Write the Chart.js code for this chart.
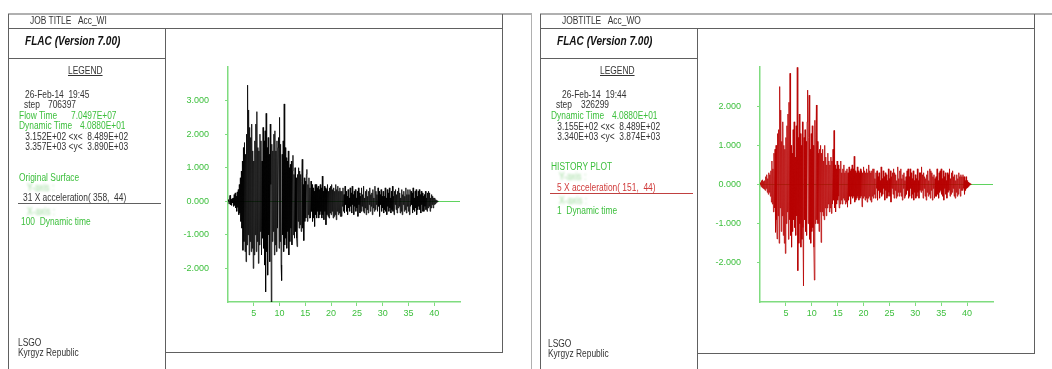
<!DOCTYPE html>
<html>
<head>
<meta charset="utf-8">
<script src="https://cdn.jsdelivr.net/npm/chart.js@4.4.1/dist/chart.umd.min.js"></script>
<style>
body{margin:0;width:1052px;height:369px;position:relative;background:#fff;overflow:hidden;font-family:"Liberation Sans",Arial,sans-serif;}
.ln{position:absolute;background:#606060;}
.lg{position:absolute;background:#b0b0b0;}
.t{position:absolute;font-size:10px;line-height:12px;color:#333;white-space:pre;transform:scaleX(0.84);transform-origin:0 0;}
.g{color:#3cbf3c;}
.r{color:#d03a3a;}
.blur{color:#9fdc9f;filter:blur(1.2px);}
.flac{font-weight:bold;font-style:italic;font-size:12px;color:#111;}
.leg{text-decoration:underline;}
.box{position:absolute;}
</style>
</head>
<body>

<!-- left page -->
<div class="lg" style="left:8px;top:13px;width:524px;height:2px"></div>
<div class="ln" style="left:8px;top:14px;width:1px;height:355px"></div>
<div class="lg" style="left:531px;top:14px;width:1px;height:355px"></div>
<div class="ln" style="left:8px;top:28px;width:494px;height:1px"></div>
<div class="ln" style="left:165px;top:28px;width:1px;height:341px"></div>
<div class="ln" style="left:8px;top:58px;width:157px;height:1px"></div>
<div class="ln" style="left:502px;top:14px;width:1px;height:339px"></div>
<div class="ln" style="left:165px;top:352px;width:338px;height:1px"></div>

<div class="t" style="left:30px;top:15px">JOB TITLE   Acc_WI</div>
<div class="t flac" style="left:25px;top:35px">FLAC (Version 7.00)</div>
<div class="t leg" style="left:68px;top:65px">LEGEND</div>
<div class="t" style="left:25px;top:89px">26-Feb-14  19:45</div>
<div class="t" style="left:24px;top:99px">step</div>
<div class="t" style="left:48px;top:99px">706397</div>
<div class="t g" style="left:19px;top:110px">Flow Time</div>
<div class="t g" style="left:71px;top:110px">7.0497E+07</div>
<div class="t g" style="left:19px;top:120px">Dynamic Time</div>
<div class="t g" style="left:80px;top:120px">4.0880E+01</div>
<div class="t" style="left:23px;top:131px"> 3.152E+02 &lt;x&lt;  8.489E+02</div>
<div class="t" style="left:23px;top:141px"> 3.357E+03 &lt;y&lt;  3.890E+03</div>
<div class="t g" style="left:19px;top:172px">Original Surface</div>
<div class="t blur" style="left:27px;top:182px">Y-axis :</div>
<div class="t" style="left:23px;top:192px">31 X acceleration( 358,  44)</div>
<div class="ln" style="left:18px;top:203px;width:143px;height:1px"></div>
<div class="t blur" style="left:27px;top:206px">X-axis :</div>
<div class="t g" style="left:21px;top:216px">100  Dynamic time</div>
<div class="t" style="left:18px;top:337px">LSGO</div>
<div class="t" style="left:18px;top:347px">Kyrgyz Republic</div>

<!-- right page -->
<div class="lg" style="left:540px;top:13px;width:512px;height:2px"></div>
<div class="ln" style="left:540px;top:14px;width:1px;height:355px"></div>
<div class="ln" style="left:540px;top:28px;width:494px;height:1px"></div>
<div class="ln" style="left:697px;top:28px;width:1px;height:341px"></div>
<div class="ln" style="left:540px;top:58px;width:157px;height:1px"></div>
<div class="ln" style="left:1034px;top:14px;width:1px;height:340px"></div>
<div class="ln" style="left:697px;top:353px;width:338px;height:1px"></div>

<div class="t" style="left:562px;top:15px">JOBTITLE   Acc_WO</div>
<div class="t flac" style="left:557px;top:35px">FLAC (Version 7.00)</div>
<div class="t leg" style="left:600px;top:65px">LEGEND</div>
<div class="t" style="left:562px;top:89px">26-Feb-14  19:44</div>
<div class="t" style="left:556px;top:99px">step</div>
<div class="t" style="left:581px;top:99px">326299</div>
<div class="t g" style="left:551px;top:110px">Dynamic Time</div>
<div class="t g" style="left:612px;top:110px">4.0880E+01</div>
<div class="t" style="left:555px;top:121px"> 3.155E+02 &lt;x&lt;  8.489E+02</div>
<div class="t" style="left:555px;top:131px"> 3.340E+03 &lt;y&lt;  3.874E+03</div>
<div class="t g" style="left:551px;top:161px">HISTORY PLOT</div>
<div class="t blur" style="left:559px;top:171px">Y-axis :</div>
<div class="t r" style="left:557px;top:182px">5 X acceleration( 151,  44)</div>
<div class="ln" style="left:550px;top:193px;width:143px;height:1px;background:#c04040"></div>
<div class="t blur" style="left:559px;top:195px">X-axis :</div>
<div class="t g" style="left:557px;top:205px">1  Dynamic time</div>
<div class="t" style="left:548px;top:338px">LSGO</div>
<div class="t" style="left:548px;top:348px">Kyrgyz Republic</div>

<div class="box" style="left:170px;top:40px;width:300px;height:290px"><canvas id="accWI"></canvas></div>
<div class="box" style="left:702px;top:40px;width:300px;height:290px"><canvas id="accWO"></canvas></div>

<script>
// history sampling step (s)
const dt = 0.1;

// x-acceleration history, grid point (358,44), Acc_WI
const accWI = [
  0, 0.05, -0.08, 0.12, 0.18, -0.1, 0.06, -0.12, 0.08, -0.05,
  0.1, -0.15, 0.2, -0.12, 0.25, -0.2, 0.15, -0.3, 0.28, -0.18,
  0.35, -0.4, 0.5, -0.35, 0.7, -0.6, 0.9, -0.8, 1.2, -1.46,
  1.6, -1.2, 1.75, -1.5, 1.4, -1.8, 2.0, -1.3, 3.46, -1.0,
  2.72, -1.6, 2.2, -1.2, 1.9, -1.5, 2.3, -1.4, 1.5, -2.0,
  1.2, -1.6, 1.8, -1.0, 2.3, -1.5, 2.67, -1.2, 1.6, -1.85,
  1.5, -1.3, 2.0, -0.9, 1.8, -1.6, 1.2, -1.1, 2.2, -1.4,
  1.8, -1.9, 2.1, -2.7, 2.62, -1.5, 1.6, -2.2, 1.9, -1.0,
  1.4, -1.8, 2.3, 0.5, -3.0, 1.7, -1.2, 1.5, -0.9, 2.0,
  -1.6, 2.1, -1.3, 1.5, -1.5, 1.8, -0.8, 1.6, 1.9, -1.4,
  2.5, -1.2, 1.7, -1.9, -2.36, 1.4, -1.0, 1.8, -1.5, 2.9,
  -1.3, 1.6, -1.1, 1.3, -1.4, 1.2, -0.9, 1.5, -1.6, 1.0,
  -1.2, 1.1, -0.8, 1.2, -1.3, 0.9, 1.37, -1.0, 0.8, -1.1,
  1.0, -0.9, 0.7, -1.1, -1.35, 0.8, -0.6, 1.0, -0.8, 0.9,
  -0.7, 0.8, -0.9, 0.6, 1.25, -0.8, 0.5, -1.17, 0.7, -0.6,
  0.6, -0.5, 0.8, 0.95, -0.6, 0.5, -0.4, 0.7, -0.5, 0.4,
  -0.5, 0.6, -0.3, 0.5, -0.6, 0.4, -0.5, 0.3, -0.75, 0.5,
  -0.4, 0.5, -0.5, 0.4, -0.3, 0.45, -0.5, 0.35, -0.4, 0.5,
  -0.3, 0.4, -0.5, 0.75, -0.4, 0.3, -0.55, 0.45, -0.3, 0.4,
  -0.7, 0.35, -0.4, 0.5, -0.45, 0.3, -0.5, 0.4, -0.35, 0.45,
  -0.4, 0.5, -0.3, 0.35, -0.5, 0.4, -0.45, 0.3, -0.4, 0.5,
  -0.55, 0.35, -0.3, 0.45, -0.4, 0.3, -0.35, 0.4, -0.45, 0.3,
  -0.45, 0.3, -0.15, 0.4, -0.3, 0.2, -0.35, 0.45, -0.1, 0.3,
  -0.3, 0.15, -0.4, 0.35, -0.2, 0.1, -0.3, 0.4, -0.15, 0.25,
  -0.35, 0.45, -0.1, 0.2, -0.4, 0.3, -0.15, 0.35, -0.3, 0.1,
  -0.2, 0.3, -0.45, 0.4, -0.1, 0.25, -0.35, 0.15, -0.3, 0.4,
  -0.15, 0.2, -0.3, 0.45, -0.35, 0.1, -0.2, 0.3, -0.4, 0.35,
  -0.25, 0.15, -0.35, 0.3, -0.1, 0.4, -0.3, 0.2, -0.15, 0.25,
  -0.4, 0.35, -0.2, 0.1, -0.3, 0.45, -0.25, 0.3, -0.1, 0.2,
  -0.3, 0.4, -0.15, 0.3, -0.45, 0.2, -0.1, 0.35, -0.3, 0.15,
  -0.2, 0.3, -0.35, 0.15, -0.25, 0.4, -0.3, 0.1, -0.4, 0.35,
  -0.15, 0.25, -0.3, 0.4, -0.2, 0.1, -0.35, 0.3, -0.25, 0.45,
  -0.3, 0.15, -0.4, 0.3, -0.1, 0.35, -0.25, 0.2, -0.35, 0.3,
  -0.2, 0.4, -0.15, 0.25, -0.35, 0.1, -0.3, 0.35, -0.4, 0.2,
  -0.1, 0.3, -0.3, 0.15, -0.25, 0.4, -0.35, 0.2, -0.15, 0.35,
  -0.3, 0.2, -0.4, 0.35, -0.15, 0.3, -0.1, 0.25, -0.35, 0.4,
  -0.25, 0.1, -0.3, 0.3, -0.2, 0.35, -0.4, 0.15, -0.25, 0.3,
  -0.15, 0.35, -0.25, 0.2, -0.35, 0.3, -0.1, 0.25, -0.3, 0.15,
  -0.3, 0.2, -0.15, 0.3, -0.25, 0.1, -0.3, 0.25, -0.2, 0.3,
  -0.15, 0.25, -0.3, 0.1, -0.2, 0.2, -0.1, 0.15, -0.2, 0.1,
  -0.1, 0.1, -0.08, 0.05, -0.04, 0.03, -0.02, 0.01, 0, 0
];

// x-acceleration history, grid point (151,44), Acc_WO
const accWO = [
  0, 0.05, -0.05, 0.1, -0.08, 0.12, -0.1, 0.08, -0.12, 0.1,
  -0.15, 0.2, -0.1, 0.25, -0.2, 0.15, -0.25, 0.3, -0.2, 0.25,
  -0.3, 0.35, -0.45, 0.6, -0.5, 0.4, -0.7, 0.8, -0.6, 0.9,
  -1.22, 1.0, -0.9, -1.39, 1.3, -0.8, 1.4, -1.5, 2.5, -0.6,
  1.9, -1.2, 1.1, -0.8, 1.6, -1.3, 1.0, -1.5, 0.9, -1.76,
  1.2, -1.0, 1.5, -0.7, 1.8, -1.4, 2.1, -0.9, 2.84, -1.3,
  1.0, -1.6, 0.8, -1.2, 1.4, -0.9, 1.6, -1.1, 0.7, -1.3,
  1.5, -0.8, 2.99, -2.2, 1.2, -1.5, 1.8, -1.0, 1.3, -1.6,
  1.0, -1.4, 1.6, -1.1, -2.59, 1.2, -0.9, 1.4, -1.2, 1.1,
  -1.3, 1.6, 2.41, -1.0, 1.2, 2.28, -1.4, 0.9, -1.5, 1.3,
  -1.2, 1.5, -1.1, 1.0, -1.6, -2.44, 1.64, -1.0, 1.2, 2.03,
  -0.9, 1.1, -1.0, 0.8, -1.2, 0.9, -0.7, 1.0, -1.48, 0.8,
  -0.7, 0.9, -0.8, 0.6, -0.9, 1.0, -0.6, 0.7, -0.8, 0.5,
  -0.6, 0.8, -0.5, 0.6, -0.7, 0.5, -0.6, 0.7, -0.74, 0.6,
  -0.5, 0.9, -0.4, 1.38, -0.6, 0.5, -0.7, 0.4, -0.5, 0.6,
  -0.4, 0.5, -0.3, -0.6, 0.4, -0.5, 0.6, -0.4, 0.3, -0.5,
  0.4, -0.35, 0.5, -0.4, 0.3, -0.5, 0.35, -0.45, 0.4, -0.58,
  0.3, -0.4, 0.45, -0.3, 0.35, -0.5, 0.4, -0.3, 0.5, -0.35,
  0.4, -0.3, 0.72, -0.45, 0.35, -0.4, 0.3, -0.35, 0.45, -0.3,
  0.35, -0.4, 0.3, -0.35, 0.4, -0.3, 0.35, -0.57, 0.3, -0.35,
  0.45, -0.3, 0.35, -0.4, 0.3, -0.35, 0.4, -0.45, 0.3, -0.35,
  0.5, -0.3, 0.35, -0.4, 0.3, -0.45, 0.35, -0.3, 0.4, -0.35,
  0.4, -0.25, 0.15, -0.35, 0.3, -0.1, 0.35, -0.4, 0.2, -0.15,
  0.3, -0.35, 0.1, -0.2, 0.45, -0.3, 0.15, -0.25, 0.35, -0.1,
  0.2, -0.4, 0.3, -0.15, 0.25, -0.35, 0.1, -0.3, 0.4, -0.2,
  0.15, -0.3, 0.35, -0.45, 0.2, -0.1, 0.3, -0.25, 0.4, -0.35,
  0.3, -0.15, 0.25, -0.35, 0.1, -0.3, 0.45, -0.2, 0.15, -0.3,
  0.35, -0.2, 0.4, -0.3, 0.15, -0.4, 0.25, -0.1, 0.3, -0.35,
  0.1, -0.3, 0.2, -0.25, 0.35, -0.15, 0.4, -0.35, 0.2, -0.3,
  0.4, -0.1, 0.3, -0.35, 0.15, -0.25, 0.35, -0.4, 0.1, -0.2,
  0.25, -0.35, 0.15, -0.3, 0.4, -0.2, 0.1, -0.35, 0.3, -0.15,
  0.3, -0.2, 0.45, -0.15, 0.25, -0.35, 0.3, -0.1, 0.2, -0.3,
  0.15, -0.4, 0.25, -0.2, 0.35, -0.3, 0.1, -0.25, 0.4, -0.35,
  0.35, -0.15, 0.3, -0.4, 0.2, -0.1, 0.25, -0.35, 0.15, -0.3,
  0.2, -0.3, 0.4, -0.25, 0.1, -0.35, 0.3, -0.2, 0.35, -0.15,
  0.4, -0.25, 0.15, -0.3, 0.35, -0.4, 0.2, -0.1, 0.3, -0.25,
  0.1, -0.35, 0.3, -0.2, 0.25, -0.15, 0.4, -0.3, 0.15, -0.25,
  0.3, -0.2, 0.35, -0.1, 0.2, -0.3, 0.25, -0.35, 0.1, -0.2,
  0.25, -0.3, 0.15, -0.25, 0.3, -0.1, 0.2, -0.3, 0.25, -0.15,
  0.2, -0.15, 0.25, -0.1, 0.2, -0.25, 0.1, -0.15, 0.2, -0.1,
  0.1, -0.08, 0.06, -0.05, 0.04, -0.02, 0.02, 0, 0, 0
];

const timeTicks = [5, 10, 15, 20, 25, 30, 35, 40];
const yTicksWI = [-2, -1, 0, 1, 2, 3];
const yTicksWO = [-2, -1, 0, 1, 2];

const green = '#3cbf3c';
const axisGreen = '#7fdc7f';
const tickFont = { size: 9, family: '"Liberation Sans", Arial, sans-serif' };

function makeChart(id, values, color, yMin, yMax, yTicks, padRight) {
  const pts = values.map((v, i) => ({ x: i * dt, y: v }));
  return new Chart(document.getElementById(id), {
    type: 'line',
    data: {
      datasets: [{
        data: pts,
        borderColor: color,
        borderWidth: 0.8,
        pointRadius: 0,
        tension: 0
      }]
    },
    options: {
      responsive: true,
      maintainAspectRatio: false,
      animation: false,
      events: [],
      layout: { padding: { top: 27, right: padRight, left: 0, bottom: 0 } },
      plugins: { legend: { display: false }, tooltip: { enabled: false } },
      scales: {
        x: {
          type: 'linear',
          min: 0,
          max: 45,
          afterBuildTicks: a => { a.ticks = timeTicks.map(v => ({ value: v })); },
          afterFit: a => { a.height = 28; },
          border: { color: axisGreen, width: 1.5 },
          grid: { drawOnChartArea: false, tickColor: axisGreen, tickLength: 4 },
          ticks: { color: green, font: tickFont, padding: 2, maxRotation: 0 }
        },
        y: {
          min: yMin,
          max: yMax,
          afterBuildTicks: a => { a.ticks = yTicks.map(v => ({ value: v })); },
          afterFit: a => { a.width = 58; },
          border: { color: axisGreen, width: 1.5 },
          grid: {
            color: c => (c.tick && c.tick.value === 0) ? '#5fd35f' : 'rgba(0,0,0,0)',
            tickColor: axisGreen,
            tickLength: 3
          },
          ticks: {
            color: green,
            font: tickFont,
            padding: 16,
            callback: v => Number(v).toFixed(3)
          }
        }
      }
    }
  });
}

makeChart('accWI', accWI, '#000000', -3, 4, yTicksWI, 10);
makeChart('accWO', accWO, '#b80000', -3, 3, yTicksWO, 9);
</script>
</body>
</html>
